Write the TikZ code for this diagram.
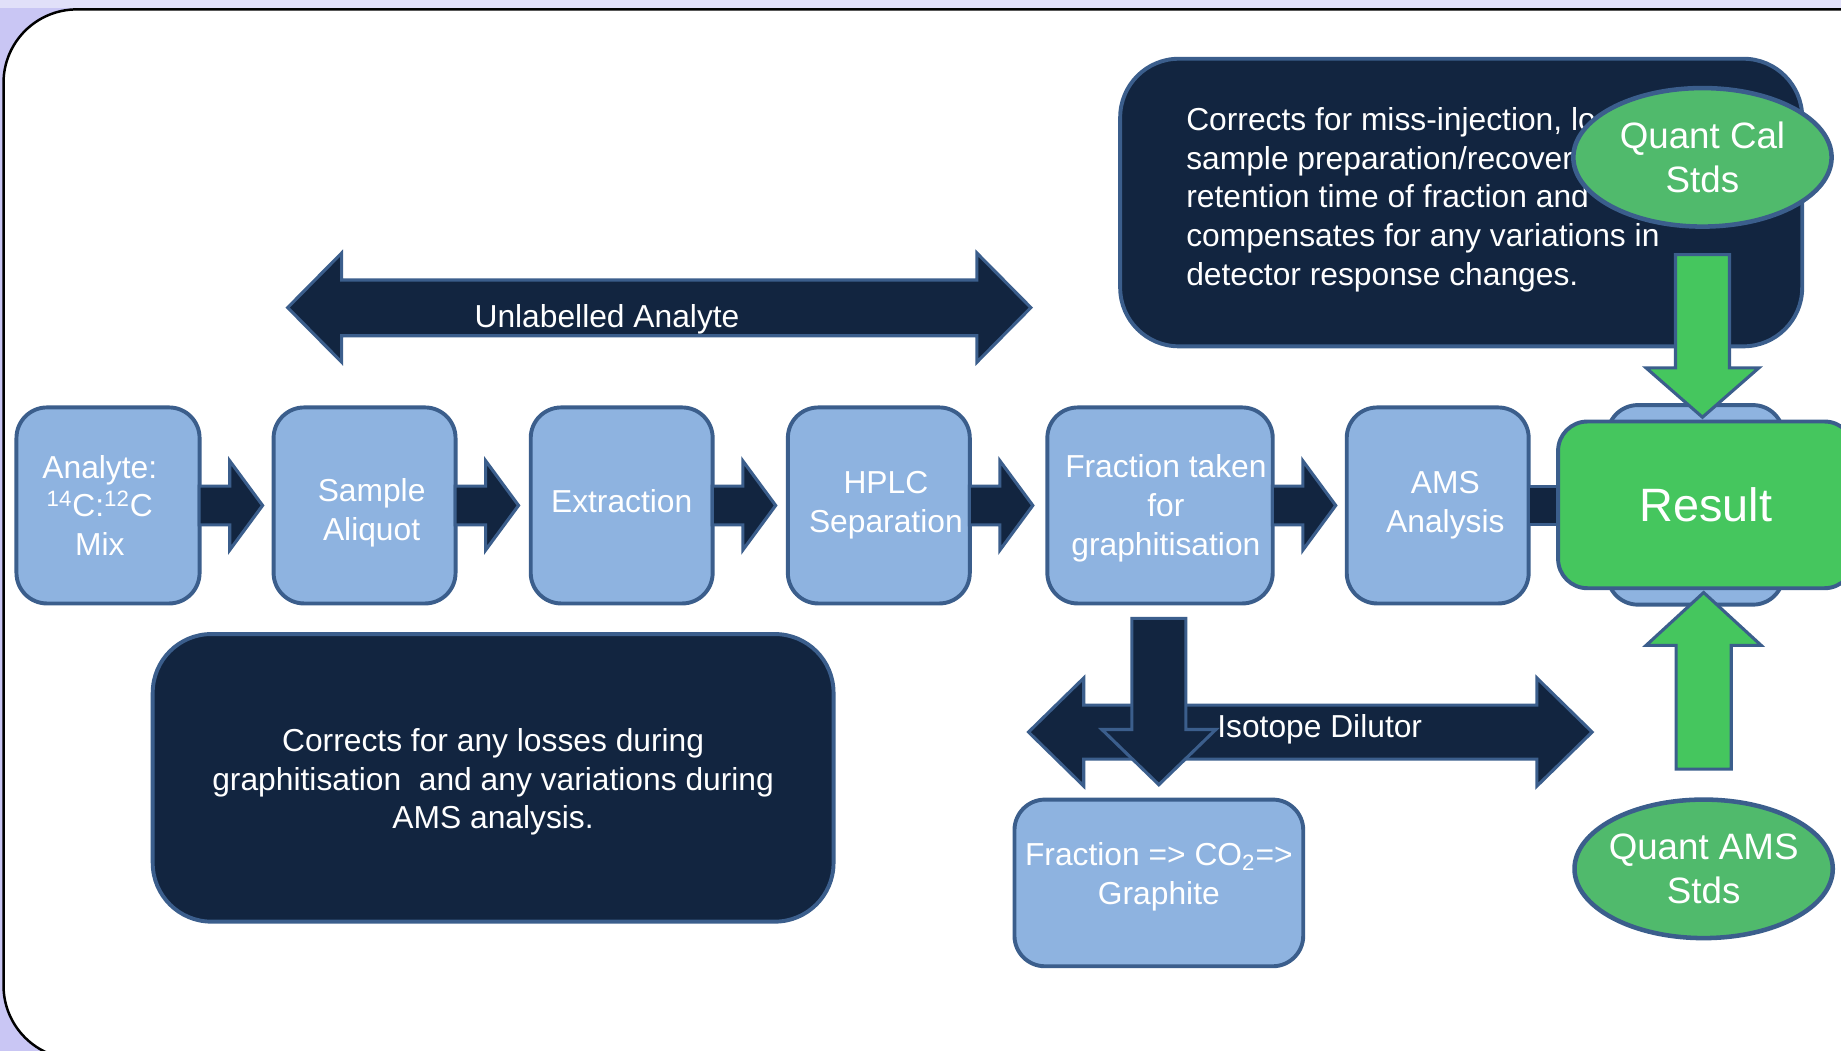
\documentclass[tikz,border=0pt]{standalone}
\usepackage{fontspec}
\setmainfont{Liberation Sans}
\usetikzlibrary{calc,shapes.geometric}
\definecolor{navy}{HTML}{122540}
\definecolor{edgeblue}{HTML}{3B5E8C}
\definecolor{lblue}{HTML}{8EB3E0}
\definecolor{rgreen}{HTML}{45C65E}
\definecolor{egreen}{HTML}{50BA6C}
\definecolor{lav}{HTML}{C9C6F4}
\begin{document}
\begin{tikzpicture}[x=0.02cm,y=-0.02cm,
  txt/.style={text=white, font=\fontsize{15.4}{18.8}\selectfont, align=center, inner sep=0pt},
  procbox/.style={draw=edgeblue, line width=1.9pt, fill=lblue, rounded corners=0.52cm, minimum height=3.34cm, inner sep=0pt},
  darkbox/.style={txt, draw=edgeblue, line width=1.9pt, fill=navy, rounded corners=1cm, minimum width=11.6cm, minimum height=4.9cm, inner sep=0pt},
  stdell/.style={ellipse, draw=edgeblue, line width=2.2pt, fill=egreen, text=white, font=\fontsize{17.8}{21.6}\selectfont, align=center, minimum width=4.4cm, minimum height=2.36cm, inner xsep=-12pt, inner ysep=0pt},
  barrow/.style={draw=edgeblue, line width=1.5pt, fill=navy},
  garrow/.style={draw=edgeblue, line width=1.5pt, fill=rgreen},
  lbl/.style={text=white, font=\fontsize{15.4}{18.8}\selectfont, inner sep=0pt}]
\useasboundingbox (0,0) rectangle (1568,895);
\clip (0,0) rectangle (1568,895);
% background and frame
\fill[lav] (0,0) rectangle (1568,895);
\fill[lav!55!white] (0,0) rectangle (1568,7);
\draw[line width=1.2pt, fill=white, rounded corners=1.25cm] (3,8) rectangle (1650,902);

% Unlabelled analyte double arrow
\draw[barrow] (245,262) -- (291,215.5) -- (291,238.5) -- (832,238.5) -- (832,215.5) -- (878,262) -- (832,308.5) -- (832,286) -- (291,286) -- (291,308.5) -- cycle;
\node[lbl] (ua) at (517,272) {Unlabelled Analyte};

% process boxes
\node[procbox, minimum width=3.12cm] (b1) at (92,430.5) {};
\node[procbox, minimum width=3.10cm] (b2) at (310.5,430.5) {};
\node[procbox, minimum width=3.10cm] (b3) at (529.5,430.5) {};
\node[procbox, minimum width=3.10cm] (b4) at (748.5,430.5) {};
\node[procbox, minimum width=3.84cm] (b5) at (988,430.5) {};
\node[procbox, minimum width=3.10cm] (b6) at (1224.5,430.5) {};
\node[procbox, minimum width=3.0cm, minimum height=3.4cm] (b7) at (1444,430) {};
\node[txt] (t1) at ($(b1.center)+(-7,0)$) {Analyte:\\\textsuperscript{14}C:\textsuperscript{12}C\\Mix};
\node[txt] (t2) at ($(b2.center)+(6,6.5)$) {Sample\\Aliquot};
\node[txt] (t3) at ($(b3.center)+(0,-4)$) {Extraction};
\node[txt] (t4) at ($(b4.center)+(6,0)$) {HPLC\\Separation};
\node[txt] (t5) at ($(b5.center)+(5,2.5)$) {Fraction taken\\for\\graphitisation};
\node[txt] (t6) at ($(b6.center)+(6.5,0)$) {AMS\\Analysis};

% block arrows between boxes
\foreach \p/\q in {b1/b2,b2/b3,b3/b4,b4/b5,b5/b6}
  \draw[barrow] ($(\p.east)+(-2,-16.5)$) -- ++(26,0) -- ++(0,-21.5) -- ++(28,38) -- ++(-28,38) -- ++(0,-21.5) -- ++(-26,0) -- cycle;
\draw[barrow] ($(b6.east)+(-2,-16)$) rectangle ($(b6.east -| b7.west)+(2,16)$);

% result
\node[procbox, fill=rgreen, minimum width=5.04cm, minimum height=2.84cm, rounded corners=0.5cm, text=white, font=\fontsize{22.7}{27}\selectfont] (res) at (1453,430) {Result};

% top note
\node[darkbox, minimum width=11.62cm] (topnote) at (1244.5,172.5) {};
\node[lbl, align=left, anchor=north west] (toptext) at (1010,91) {Corrects for miss-injection, lo\\sample preparation/recover\\retention time of fraction and\\compensates for any variations in\\detector response changes.};

% standards
\node[stdell] (qc) at (1450,134) {Quant Cal\\Stds};
\node[stdell] (qa) at (1451,740) {Quant AMS\\Stds};

% green arrows
\coordinate (gtip1) at ($(qc.center |- res.north)+(0,-2)$);
\coordinate (gtop1) at ($(qc.south)+(0,22)$);
\draw[garrow] ($(gtop1)+(-23,0)$) -- ($(gtop1)+(23,0)$) -- ($(gtip1)+(23,-42)$) -- ($(gtip1)+(48,-42)$) -- (gtip1) -- ($(gtip1)+(-48,-42)$) -- ($(gtip1)+(-23,-42)$) -- cycle;
\coordinate (gtip2) at ($(qa.center |- res.south)+(0,2)$);
\coordinate (gbot2) at ($(qa.north)+(0,-24)$);
\draw[garrow] ($(gbot2)+(-23.5,0)$) -- ($(gbot2)+(23.5,0)$) -- ($(gtip2)+(23.5,45)$) -- ($(gtip2)+(49,45)$) -- (gtip2) -- ($(gtip2)+(-49,45)$) -- ($(gtip2)+(-23.5,45)$) -- cycle;

% bottom note
\node[darkbox] (botnote) at (420,662.5) {};
\node[txt] (bottext) at ($(botnote.center)+(0,3.5)$) {Corrects for any losses during\\graphitisation\ \ and any variations during\\AMS analysis.};

% graphite box
\node[procbox, minimum width=4.92cm, minimum height=2.84cm] (gr) at (987,752) {};
\node[txt] (grtext) at ($(gr.center)+(0,-5.5)$) {Fraction => CO\textsubscript{2}=>\\Graphite};

% isotope dilutor arrow
\draw[barrow] (876,623.5) -- (923,577.5) -- (923,600.5) -- (1309,600.5) -- (1309,577.5) -- (1356,623.5) -- (1309,669.5) -- (1309,646.5) -- (923,646.5) -- (923,669.5) -- cycle;
% down arrow fraction -> graphite
\coordinate (dtip) at ($(gr.north)+(0,-11)$);
\coordinate (dtop) at ($(dtip |- b5.south)+(0,11)$);
\draw[barrow] ($(dtop)+(-23,0)$) -- ($(dtop)+(23,0)$) -- ($(dtip)+(23,-47)$) -- ($(dtip)+(48.5,-47)$) -- (dtip) -- ($(dtip)+(-48.5,-47)$) -- ($(dtip)+(-23,-47)$) -- cycle;
\node[lbl] (iso) at (1124,621) {Isotope Dilutor};
\end{tikzpicture}
\end{document}
